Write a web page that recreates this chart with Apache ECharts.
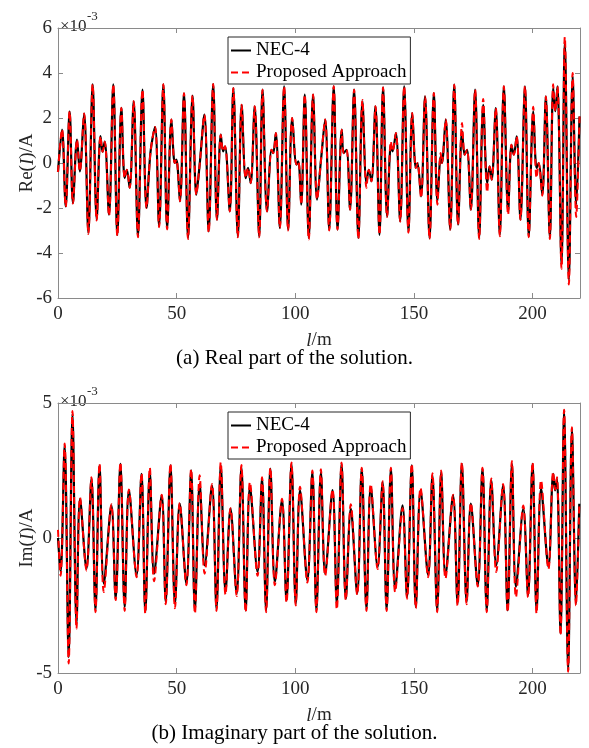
<!DOCTYPE html>
<html>
<head>
<meta charset="utf-8">
<script src="https://cdn.jsdelivr.net/npm/echarts@6/dist/echarts.min.js"></script>
<style>
html,body{margin:0;padding:0;background:#fff;}
#chart{width:589px;height:748px;}
</style>
</head>
<body>
<div id="chart"></div>
<script>
// ---------- data (current in units of 1e-3 A) ----------
const xTicks = [0, 50, 100, 150, 200];
const legendNames = ['NEC-4', 'Proposed Approach'];

// (a) real part: positions of extrema along the wire (m)
const reL = [0.0,1.7,3.25,4.9,6.3,8.0,9.2,11.0,12.8,14.6,16.3,17.9,18.8,19.7,21.5,23.3,25.0,26.7,28.1,29.0,30.2,31.9,33.7,35.6,37.3,39.0,40.9,42.6,44.4,46.0,47.8,49.2,49.9,51.4,53.1,54.8,56.7,58.3,59.7,61.7,63.5,65.4,67.0,68.6,69.6,70.4,72.4,73.9,75.8,77.4,79.1,80.1,81.2,82.9,84.8,86.2,88.1,90.0,90.7,91.8,93.5,95.3,97.0,98.7,100.5,101.3,102.5,104.0,105.7,107.5,109.2,110.9,112.6,114.3,116.2,117.8,119.6,120.4,121.6,123.1,124.8,126.6,128.3,130.0,131.0,132.1,133.8,135.5,137.0,138.7,140.3,141.0,142.4,144.2,145.9,147.7,149.3,150.8,151.5,153.0,154.7,156.6,158.4,159.9,161.3,161.8,163.4,165.3,167.0,168.6,170.3,171.4,172.4,174.0,175.8,177.5,179.2,180.9,181.9,182.8,184.5,186.2,187.9,189.7,191.1,192.1,193.3,194.9,196.8,198.4,200.3,201.7,202.6,204.1,205.6,207.3,208.7,209.6,210.5,212.2,213.6,215.3,216.9,218.4,219.8];
const reNec = [-0.4,1.48,-1.93,2.3,-1.78,1.04,-0.37,2.2,-3.1,3.5,-2.5,1.2,0.5,0.95,-2.3,3.5,-3.2,2.45,-0.67,-0.3,-1.1,2.74,-3.26,3.26,-2.0,0.5,1.6,-2.8,3.5,-2.9,1.93,0.0,0.15,-1.7,3.1,-3.33,3.0,-1.41,-0.07,2.15,-3.04,3.51,-2.52,1.26,0.52,0.74,-2.15,3.33,-3.26,2.59,-0.67,-0.22,-0.89,2.52,-3.26,3.26,-2.15,0.59,0.44,1.33,-2.89,3.41,-2.96,2.0,-0.07,0.07,-1.85,3.04,-3.33,3.04,-1.63,0.2,1.93,-2.96,3.41,-2.96,1.48,0.44,0.59,-2.07,3.26,-3.33,2.74,-0.89,-0.3,-0.81,2.52,-3.19,3.36,-2.37,0.81,0.52,1.33,-2.59,3.41,-3.04,2.22,-0.22,0.0,-1.48,2.96,-3.33,3.11,-1.7,0.3,0.0,1.93,-2.96,3.48,-2.74,1.41,0.37,0.59,-2.07,3.26,-3.33,2.59,-0.89,-0.15,-0.74,2.44,-3.19,3.41,-2.15,0.81,0.37,1.19,-2.52,3.41,-3.26,2.3,-0.22,0.0,-1.41,2.96,-3.33,3.33,2.3,3.41,-4.52,5.41,-5.19,3.85,-1.85,2.07];
const reProp = [-0.4,1.5,-1.95,2.3,-1.8,1.04,-0.37,2.2,-3.15,3.5,-2.55,1.2,0.5,0.95,-2.35,3.5,-3.25,2.45,-0.67,-0.3,-1.1,2.74,-3.3,3.26,-2.0,0.5,1.6,-2.85,3.5,-2.95,1.93,0.0,0.15,-1.7,3.1,-3.38,3.0,-1.41,-0.07,2.15,-3.08,3.51,-2.52,1.26,0.52,0.74,-2.15,3.33,-3.3,2.59,-0.67,-0.22,-0.89,2.52,-3.3,3.26,-2.15,0.59,0.44,1.33,-2.89,3.41,-3.0,2.0,-0.07,0.07,-1.85,3.04,-3.4,3.04,-1.63,0.2,1.93,-3.0,3.41,-2.96,1.48,0.44,0.59,-2.07,3.26,-3.38,2.8,-1.1,-0.3,-0.81,2.52,-3.19,3.36,-2.4,0.96,0.52,1.33,-2.6,3.41,-3.1,2.22,-0.22,0.0,-1.55,2.96,-3.38,3.11,-1.85,0.44,0.0,1.93,-2.96,3.48,-2.74,1.78,0.37,0.59,-2.07,3.26,-3.38,2.85,-1.3,-0.15,-0.74,2.44,-3.25,3.41,-2.3,0.81,0.37,1.19,-2.52,3.41,-3.3,2.5,-0.67,0.0,-1.45,2.96,-3.38,3.5,2.3,3.41,-4.7,5.6,-5.4,4.0,-2.4,2.07];

// (b) imaginary part
const imL = [0.0,1.1,2.8,4.5,6.1,7.8,9.3,12.0,14.1,15.8,17.5,19.3,22.5,24.3,26.3,28.1,29.9,33.1,35.2,36.8,38.7,40.5,43.7,45.4,47.4,49.3,51.3,54.1,56.1,57.7,59.7,61.8,64.9,66.8,68.6,70.6,72.7,75.3,77.3,79.1,80.9,84.1,86.0,87.7,89.5,91.4,94.4,96.3,98.4,100.2,102.0,105.1,107.2,108.9,110.8,112.6,115.7,117.5,119.5,121.3,123.4,126.1,128.0,130.0,131.8,134.7,136.8,138.5,140.3,142.1,145.2,147.1,149.1,150.8,152.8,156.0,157.8,159.8,161.5,163.3,166.5,168.4,170.2,172.2,174.0,176.9,178.9,180.7,182.6,184.7,187.6,189.5,191.3,193.0,196.1,198.1,200.0,201.7,203.6,206.7,208.7,209.5,210.3,211.8,213.3,215.0,216.6,218.3,219.7];
const imNec = [0.0,-1.26,3.43,-4.41,4.6,-3.17,1.46,-1.14,2.2,-2.68,2.69,-1.69,1.21,-2.25,2.75,-2.56,1.77,-1.38,2.38,-2.74,2.44,-1.32,1.58,-2.37,2.69,-2.43,1.27,-1.69,2.51,-2.68,2.01,-1.01,1.95,-2.62,2.69,-2.0,1.09,-2.06,2.63,-2.68,1.89,-1.26,2.2,-2.68,2.57,-1.63,1.4,-2.31,2.75,-2.43,1.77,-1.57,2.44,-2.68,2.44,-1.32,1.77,-2.43,2.75,-2.25,1.09,-2.06,2.57,-2.62,1.89,-1.07,2.07,-2.65,2.57,-1.88,1.21,-2.19,2.69,-2.56,1.77,-1.38,2.32,-2.68,2.44,-1.38,1.58,-2.43,2.75,-2.37,1.27,-1.75,2.57,-2.68,2.14,-1.01,1.95,-2.68,2.75,-1.81,1.09,-2.12,2.75,-2.68,1.83,-1.07,2.38,1.76,2.2,-3.54,4.73,-4.9,4.05,-2.43,1.27];
const imProp = [0.3,-1.4,3.5,-4.65,4.7,-3.37,1.5,-1.2,2.25,-2.75,2.75,-2.0,1.25,-2.3,2.8,-2.7,1.8,-1.45,2.4,-2.8,2.6,-1.6,1.6,-2.45,2.75,-2.6,1.3,-1.75,2.55,-2.8,2.32,-1.32,2.0,-2.7,2.8,-2.1,1.1,-2.15,2.7,-2.75,2.07,-1.4,2.25,-2.75,2.6,-1.75,1.45,-2.4,2.8,-2.5,1.9,-1.65,2.5,-2.75,2.55,-1.4,1.8,-2.65,2.8,-2.3,1.25,-2.1,2.6,-2.7,2.0,-1.15,2.1,-2.7,2.6,-2.0,1.1,-2.25,2.75,-2.6,1.85,-1.45,2.4,-2.75,2.5,-1.5,1.6,-2.5,2.8,-2.45,1.3,-1.8,2.6,-2.75,2.2,-1.26,2.0,-2.75,2.85,-2.19,1.2,-2.2,2.8,-2.8,2.14,-1.15,2.45,1.8,2.25,-3.6,4.75,-4.95,4.1,-2.5,1.3];

const pairs = (xs, ys) => xs.map((x, i) => [x, ys[i]]);

// ---------- styling ----------
const FONT = 'Liberation Serif';
const frameColor = '#8a8a8a';
const textColor = '#262626';

const grids = [
  {left: 58, top: 28, width: 522, height: 270, outerBoundsMode: 'none', containLabel: false},
  {left: 58, top: 403, width: 522, height: 270, outerBoundsMode: 'none', containLabel: false}
];

function xAxes(gi) {
  return [
    {
      gridIndex: gi, type: 'value', min: 0, max: 220, interval: 50, position: 'bottom',
      axisLine: {show: true, onZero: false, lineStyle: {color: frameColor, width: 1}},
      axisTick: {show: true, inside: true, length: 5, lineStyle: {color: frameColor}},
      splitLine: {show: false},
      axisLabel: {show: true, margin: 7, color: textColor, fontFamily: FONT, fontSize: 19, showMaxLabel: false},
      name: '{i|l}/m', nameLocation: 'middle', nameGap: 33,
      nameTextStyle: {fontFamily: FONT, fontSize: 19, color: textColor,
        rich: {i: {fontFamily: FONT, fontSize: 19, fontStyle: 'italic', color: textColor}}}
    },
    {
      gridIndex: gi, type: 'value', min: 0, max: 220, interval: 50, position: 'top',
      axisLine: {show: true, onZero: false, lineStyle: {color: frameColor, width: 1}},
      axisTick: {show: true, inside: true, length: 5, lineStyle: {color: frameColor}},
      splitLine: {show: false}, axisLabel: {show: false}
    }
  ];
}

function yAxes(gi, lim, step, label) {
  return [
    {
      gridIndex: gi, type: 'value', min: -lim, max: lim, interval: step, position: 'left',
      axisLine: {show: true, onZero: false, lineStyle: {color: frameColor, width: 1}},
      axisTick: {show: true, inside: true, length: 5, lineStyle: {color: frameColor}},
      splitLine: {show: false},
      axisLabel: {show: true, margin: 6, color: textColor, fontFamily: FONT, fontSize: 19},
      name: label, nameLocation: 'middle', nameGap: 21, nameMoveOverlap: false,
      nameTextStyle: {fontFamily: FONT, fontSize: 19, color: textColor,
        rich: {i: {fontFamily: FONT, fontSize: 19, fontStyle: 'italic', color: textColor}}}
    },
    {
      gridIndex: gi, type: 'value', min: -lim, max: lim, interval: step, position: 'right',
      axisLine: {show: true, onZero: false, lineStyle: {color: frameColor, width: 1}},
      axisTick: {show: true, inside: true, length: 5, lineStyle: {color: frameColor}},
      splitLine: {show: false}, axisLabel: {show: false}
    }
  ];
}

function lineSeries(name, xi, yi, data, isProp) {
  return {
    name: name, type: 'line', xAxisIndex: xi, yAxisIndex: yi, data: data,
    symbol: 'none', smooth: 0.35, clip: true, animation: false,
    lineStyle: isProp ? {color: '#ff0000', width: 2, type: [7, 4]} : {color: '#000000', width: 2.2},
    itemStyle: {color: isProp ? '#ff0000' : '#000000'},
    z: isProp ? 3 : 2
  };
}

function legendAt(top) {
  return {
    data: legendNames, orient: 'vertical', left: 228, top: top,
    padding: [4, 4, 2, 2], itemGap: 3, itemWidth: 20, itemHeight: 14,
    borderColor: '#262626', borderWidth: 1, backgroundColor: '#ffffff',
    selectedMode: false,
    itemStyle: {opacity: 0, borderWidth: 0},
    textStyle: {fontFamily: FONT, fontSize: 19, color: '#000', lineHeight: 19}
  };
}

function exponent(top) {
  return [
    {type: 'text', left: 60, top: top - 10, style: {text: '×10', font: '17px "Liberation Serif"', fill: textColor}},
    {type: 'text', left: 87, top: top - 18, style: {text: '-3', font: '13px "Liberation Serif"', fill: textColor}}
  ];
}

const option = {
  animation: false,
  backgroundColor: '#ffffff',
  grid: grids,
  xAxis: [...xAxes(0), ...xAxes(1)],
  yAxis: [...yAxes(0, 6, 2, 'Re({i|I})/A'), ...yAxes(1, 5, 5, 'Im({i|I})/A')],
  legend: [legendAt(37), legendAt(412)],
  series: [
    lineSeries(legendNames[0], 0, 0, pairs(reL, reNec), false),
    lineSeries(legendNames[1], 0, 0, pairs(reL, reProp), true),
    lineSeries(legendNames[0], 2, 2, pairs(imL, imNec), false),
    lineSeries(legendNames[1], 2, 2, pairs(imL, imProp), true)
  ],
  graphic: [
    ...exponent(28),
    ...exponent(403),
    {type: 'text', left: 'center', top: 348, style: {text: '(a) Real part of the solution.', font: '21px "Liberation Serif"', fill: '#000'}},
    {type: 'text', left: 'center', top: 723, style: {text: '(b) Imaginary part of the solution.', font: '21px "Liberation Serif"', fill: '#000'}}
  ]
};

const chart = echarts.init(document.getElementById('chart'), null, {renderer: 'canvas'});
chart.setOption(option);
</script>
</body>
</html>
